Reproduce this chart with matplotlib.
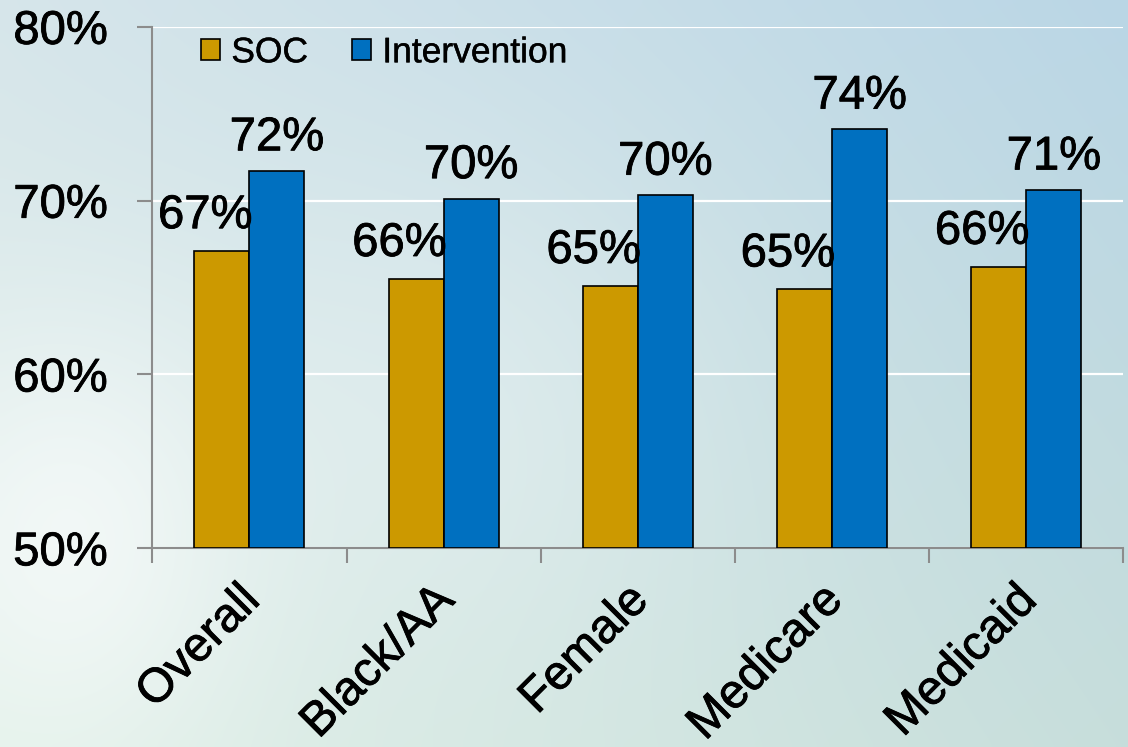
import matplotlib
matplotlib.use("Agg")
import matplotlib.pyplot as plt
import matplotlib.transforms as mtransforms
import matplotlib.patheffects as pe
import numpy as np

# data
categories = ["Overall", "Black/AA", "Female", "Medicare", "Medicaid"]
soc = [67.1, 65.5, 65.1, 64.9, 66.2]
intervention = [71.7, 70.1, 70.3, 74.1, 70.6]
soc_labels = ["67%", "66%", "65%", "65%", "66%"]
int_labels = ["72%", "70%", "70%", "74%", "71%"]
yticks = [50, 60, 70, 80]
ytick_labels = ["50%", "60%", "70%", "80%"]

plt.rcParams['font.family'] = ['Liberation Sans', 'DejaVu Sans']

fig = plt.figure(figsize=(11.28, 7.47), dpi=100)

# soft background gradient
bg = fig.add_axes([0, 0, 1, 1], zorder=-10)
tl = np.array([0.84, 0.90, 0.92])
tr = np.array([0.73, 0.84, 0.90])
bl = np.array([0.88, 0.94, 0.91])
br = np.array([0.78, 0.87, 0.86])
u = np.linspace(0, 1, 200)[None, :, None]
v = np.linspace(0, 1, 140)[:, None, None]
img = (1 - v) * ((1 - u) * tl + u * tr) + v * ((1 - u) * bl + u * br)
xx, yy = np.meshgrid(np.linspace(0, 1, 200), np.linspace(0, 1, 140))
glow = np.exp(-(((xx - 0.06) / 0.16) ** 2 + ((yy - 0.72) / 0.3) ** 2))
img = img + glow[:, :, None] * (1 - img) * 0.6
glow2 = np.exp(-(((xx - 0.4) / 0.25) ** 2 + ((yy - 0.55) / 0.35) ** 2))
img = img + glow2[:, :, None] * (1 - img) * 0.25
bg.imshow(np.clip(img, 0, 1), aspect='auto', extent=[0, 1, 0, 1], interpolation='bicubic')
bg.axis('off')

ax = fig.add_axes([0.135, 0.266, 0.861, 0.698])
ax.patch.set_alpha(0)

# slightly heavier text, like the original slide
heavy = [pe.withStroke(linewidth=0.6, foreground="black")]

x = np.arange(len(categories))
w = 0.283
ax.bar(x - w / 2, np.array(soc) - 50, w, bottom=50, color="#CC9900",
       edgecolor="black", linewidth=1.2, label="SOC", zorder=3)
ax.bar(x + w / 2, np.array(intervention) - 50, w, bottom=50, color="#0070C0",
       edgecolor="black", linewidth=1.2, label="Intervention", zorder=3)

for i in range(len(categories)):
    ax.annotate(soc_labels[i], (x[i] - w / 2, soc[i]), xytext=(-12, 16.5),
                textcoords="offset points", ha="center", va="baseline", fontsize=34,
                zorder=4, path_effects=heavy)
    ax.annotate(int_labels[i], (x[i] + w / 2, intervention[i]), xytext=(0, 15),
                textcoords="offset points", ha="center", va="baseline", fontsize=34,
                zorder=4, path_effects=heavy)

ax.set_ylim(50, 80)
ax.set_xlim(-0.5, len(categories) - 0.5)
ax.set_yticks(yticks)
ax.set_yticklabels(ytick_labels, fontsize=34)
ax.yaxis.grid(True, color="white", linewidth=1.6, zorder=0)
ax.set_axisbelow(True)

ax.set_xticks(np.arange(len(categories) + 1) - 0.5)
ax.set_xticklabels([])
ax.tick_params(axis='x', length=11, width=1.5, color="#8c8c8c", direction='out')
ax.tick_params(axis='y', length=11, width=1.5, color="#8c8c8c", direction='out', pad=21)
ax.set_xticks(x, minor=True)
ax.set_xticklabels(categories, minor=True, rotation=45, ha="right", va="top",
                   rotation_mode="anchor", fontsize=34.5)
ax.tick_params(axis='x', which='minor', length=0, pad=21)
shift = mtransforms.ScaledTranslation(-9 / 72, 0, fig.dpi_scale_trans)
for lab in ax.get_xticklabels(minor=True):
    lab.set_transform(lab.get_transform() + shift)
    lab.set_path_effects(heavy)
for lab in ax.get_yticklabels():
    lab.set_path_effects(heavy)

for s in ["top", "right"]:
    ax.spines[s].set_visible(False)
for s in ["left", "bottom"]:
    ax.spines[s].set_color("#8c8c8c")
    ax.spines[s].set_linewidth(1.5)

leg = ax.legend(loc="upper left", bbox_to_anchor=(0.05, 0.982), ncol=2, frameon=False,
                fontsize=25.5, handlelength=0.55, handleheight=0.55, handletextpad=0.31,
                columnspacing=1.24, borderpad=0, borderaxespad=0)
for t in leg.get_texts():
    t.set_path_effects([pe.withStroke(linewidth=0.3, foreground="black")])

fig.savefig("out.png", dpi=100)
